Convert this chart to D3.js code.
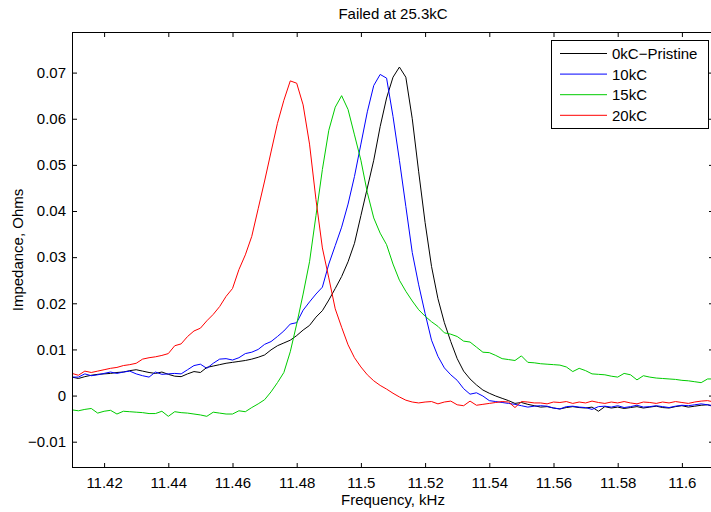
<!DOCTYPE html>
<html>
<head>
<meta charset="utf-8">
<script src="https://cdn.jsdelivr.net/npm/d3@7"></script>
<style>
  body { margin: 0; background: #fff; }
  svg { display: block; font-family: "Liberation Sans", Arial, Helvetica, sans-serif; }
  .tick line { stroke: #000; }
  .tick text { fill: #000; font-size: 15px; }
</style>
</head>
<body>
<div id="chart"></div>
<script>
// frequency points (kHz)
const freqs = [
  11.410, 11.412, 11.414, 11.416, 11.418, 11.420, 11.422, 11.424, 11.426, 11.428,
  11.430, 11.432, 11.434, 11.436, 11.438, 11.440, 11.442, 11.444, 11.446, 11.448,
  11.450, 11.452, 11.454, 11.456, 11.458, 11.460, 11.462, 11.464, 11.466, 11.468,
  11.470, 11.472, 11.474, 11.476, 11.478, 11.480, 11.482, 11.484, 11.486, 11.488,
  11.490, 11.492, 11.494, 11.496, 11.498, 11.500, 11.502, 11.504, 11.506, 11.508,
  11.510, 11.512, 11.514, 11.516, 11.518, 11.520, 11.522, 11.524, 11.526, 11.528,
  11.530, 11.532, 11.534, 11.536, 11.538, 11.540, 11.542, 11.544, 11.546, 11.548,
  11.550, 11.552, 11.554, 11.556, 11.558, 11.560, 11.562, 11.564, 11.566, 11.568,
  11.570, 11.572, 11.574, 11.576, 11.578, 11.580, 11.582, 11.584, 11.586, 11.588,
  11.590, 11.592, 11.594, 11.596, 11.598, 11.600, 11.602, 11.604, 11.606, 11.608,
  11.610
];

const pristine = [
  0.0040, 0.0037, 0.0041, 0.0044, 0.0046, 0.0047, 0.0048, 0.0050, 0.0051, 0.0054,
  0.0056, 0.0053, 0.0050, 0.0048, 0.0051, 0.0046, 0.0042, 0.0041, 0.0047, 0.0052,
  0.0050, 0.0061, 0.0064, 0.0067, 0.0070, 0.0072, 0.0074, 0.0076, 0.0079, 0.0083,
  0.0088, 0.0099, 0.0108, 0.0114, 0.0120, 0.0130, 0.0142, 0.0152, 0.0170, 0.0184,
  0.0207, 0.0232, 0.0258, 0.0290, 0.0330, 0.0390, 0.0450, 0.0510, 0.0583, 0.0645,
  0.0690, 0.0712, 0.0690, 0.0600, 0.0485, 0.0375, 0.0280, 0.0210, 0.0158, 0.0117,
  0.0080, 0.0053, 0.0036, 0.0023, 0.0012, 0.0005, -0.0001, -0.0006, -0.0011, -0.0017,
  -0.0015, -0.0019, -0.0022, -0.0025, -0.0024, -0.0027, -0.0029, -0.0026, -0.0024, -0.0026,
  -0.0027, -0.0025, -0.0034, -0.0024, -0.0027, -0.0025, -0.0028, -0.0026, -0.0024, -0.0027,
  -0.0025, -0.0023, -0.0026, -0.0027, -0.0024, -0.0022, -0.0025, -0.0023, -0.0021, -0.0020,
  -0.0024
];

const kc10 = [
  0.0040, 0.0040, 0.0047, 0.0043, 0.0045, 0.0048, 0.0051, 0.0048, 0.0051, 0.0053,
  0.0047, 0.0043, 0.0040, 0.0051, 0.0046, 0.0047, 0.0048, 0.0047, 0.0056, 0.0065,
  0.0068, 0.0059, 0.0070, 0.0079, 0.0080, 0.0077, 0.0082, 0.0091, 0.0094, 0.0100,
  0.0111, 0.0117, 0.0128, 0.0140, 0.0155, 0.0158, 0.0185, 0.0203, 0.0220, 0.0235,
  0.0285, 0.0325, 0.0365, 0.0415, 0.0475, 0.0545, 0.0615, 0.0672, 0.0696, 0.0688,
  0.0605, 0.0510, 0.0410, 0.0310, 0.0240, 0.0178, 0.0120, 0.0085, 0.0060, 0.0045,
  0.0033, 0.0015, 0.0003, 0.0006, -0.0001, -0.0011, -0.0013, -0.0015, -0.0017, -0.0019,
  -0.0022, -0.0025, -0.0023, -0.0022, -0.0023, -0.0027, -0.0029, -0.0024, -0.0023, -0.0025,
  -0.0026, -0.0030, -0.0024, -0.0023, -0.0025, -0.0022, -0.0026, -0.0024, -0.0021, -0.0025,
  -0.0024, -0.0022, -0.0024, -0.0026, -0.0023, -0.0021, -0.0022, -0.0020, -0.0018, -0.0020,
  -0.0022
];

const kc15 = [
  -0.0031, -0.0033, -0.0030, -0.0028, -0.0038, -0.0034, -0.0032, -0.0040, -0.0034, -0.0035,
  -0.0036, -0.0037, -0.0039, -0.0039, -0.0034, -0.0045, -0.0035, -0.0037, -0.0038, -0.0040,
  -0.0042, -0.0045, -0.0036, -0.0038, -0.0040, -0.0040, -0.0033, -0.0035, -0.0026, -0.0018,
  -0.0009, 0.0008, 0.0028, 0.0050, 0.0095, 0.0155, 0.0220, 0.0290, 0.0390, 0.0490,
  0.0575, 0.0625, 0.0650, 0.0620, 0.0565, 0.0510, 0.0440, 0.0385, 0.0352, 0.0327,
  0.0285, 0.0250, 0.0226, 0.0205, 0.0186, 0.0172, 0.0160, 0.0150, 0.0136, 0.0133,
  0.0128, 0.0118, 0.0116, 0.0105, 0.0094, 0.0093, 0.0087, 0.0080, 0.0078, 0.0076,
  0.0086, 0.0072, 0.0071, 0.0069, 0.0068, 0.0067, 0.0066, 0.0062, 0.0052, 0.0059,
  0.0054, 0.0047, 0.0046, 0.0045, 0.0042, 0.0040, 0.0048, 0.0045, 0.0034, 0.0043,
  0.0040, 0.0038, 0.0037, 0.0036, 0.0035, 0.0033, 0.0032, 0.0030, 0.0028, 0.0036,
  0.0036
];

const kc20 = [
  0.0048, 0.0044, 0.0053, 0.0050, 0.0053, 0.0056, 0.0059, 0.0061, 0.0065, 0.0067,
  0.0070, 0.0079, 0.0082, 0.0084, 0.0087, 0.0091, 0.0108, 0.0112, 0.0128, 0.0140,
  0.0146, 0.0162, 0.0176, 0.0193, 0.0215, 0.0232, 0.0273, 0.0305, 0.0345, 0.0405,
  0.0465, 0.0528, 0.0590, 0.0640, 0.0682, 0.0677, 0.0630, 0.0545, 0.0425, 0.0320,
  0.0255, 0.0188, 0.0148, 0.0110, 0.0082, 0.0062, 0.0045, 0.0032, 0.0022, 0.0014,
  0.0005, -0.0003, -0.0010, -0.0014, -0.0016, -0.0014, -0.0013, -0.0018, -0.0014, -0.0012,
  -0.0020, -0.0022, -0.0012, -0.0021, -0.0019, -0.0017, -0.0015, -0.0013, -0.0014, -0.0026,
  -0.0013, -0.0014, -0.0016, -0.0016, -0.0018, -0.0014, -0.0015, -0.0013, -0.0017, -0.0014,
  -0.0016, -0.0012, -0.0015, -0.0017, -0.0014, -0.0016, -0.0013, -0.0016, -0.0018, -0.0014,
  -0.0015, -0.0017, -0.0014, -0.0016, -0.0013, -0.0015, -0.0017, -0.0014, -0.0012, -0.0011,
  -0.0014
];

const seriesNames = ["0kC\u2212Pristine", "10kC", "15kC", "20kC"];
const seriesColors = ["#000000", "#0000ff", "#00cc00", "#ff0000"];
const seriesValues = [pristine, kc10, kc15, kc20];

const xTicks = [11.42, 11.44, 11.46, 11.48, 11.5, 11.52, 11.54, 11.56, 11.58, 11.6];
const yTicks = [-0.01, 0, 0.01, 0.02, 0.03, 0.04, 0.05, 0.06, 0.07];

const width = 711;
const height = 512;
const margin = ({top: 32, right: -3, bottom: 44, left: 72});

const x = d3.scaleLinear()
    .domain([11.41, 11.61])
    .range([margin.left, width - margin.right]);

const y = d3.scaleLinear()
    .domain([-0.0157, 0.0788])
    .range([height - margin.bottom, margin.top]);

const svg = d3.select("#chart").append("svg")
    .attr("width", width)
    .attr("height", height);

svg.append("rect").attr("width", width).attr("height", height).attr("fill", "#fff");

svg.append("clipPath").attr("id", "plot-clip")
  .append("rect")
    .attr("x", margin.left).attr("y", margin.top)
    .attr("width", x.range()[1] - margin.left)
    .attr("height", y.range()[0] - margin.top);

const fmtY = d => d === 0 ? "0" : d3.format(".2f")(d).replace("-", "\u2212");
const fmtX = d => String(+d.toFixed(2));

// axes, ticks point inward like matlab
svg.append("g")
    .attr("transform", `translate(0,${height - margin.bottom})`)
    .call(d3.axisBottom(x).tickValues(xTicks).tickFormat(fmtX).tickSizeInner(-5).tickSizeOuter(0).tickPadding(9))
    .call(g => g.select(".domain").remove());

svg.append("g")
    .attr("transform", `translate(0,${margin.top})`)
    .call(d3.axisTop(x).tickValues(xTicks).tickFormat("").tickSizeInner(-5).tickSizeOuter(0))
    .call(g => g.select(".domain").remove());

svg.append("g")
    .attr("transform", `translate(${margin.left},0)`)
    .call(d3.axisLeft(y).tickValues(yTicks).tickFormat(fmtY).tickSizeInner(-5).tickSizeOuter(0).tickPadding(6))
    .call(g => g.select(".domain").remove());

svg.append("g")
    .attr("transform", `translate(${x.range()[1]},0)`)
    .call(d3.axisRight(y).tickValues(yTicks).tickFormat("").tickSizeInner(-5).tickSizeOuter(0))
    .call(g => g.select(".domain").remove());

svg.selectAll(".tick line").attr("stroke", "#000");

// curves
const line = d3.line()
    .x((d, i) => x(freqs[i]))
    .y(d => y(d));

svg.append("g")
    .attr("clip-path", "url(#plot-clip)")
  .selectAll("path")
  .data(seriesValues)
  .join("path")
    .attr("fill", "none")
    .attr("stroke", (d, i) => seriesColors[i])
    .attr("stroke-width", 1)
    .attr("d", line);

// box
svg.append("rect")
    .attr("x", margin.left + 0.5)
    .attr("y", margin.top + 0.5)
    .attr("width", x.range()[1] - margin.left - 1)
    .attr("height", y.range()[0] - margin.top - 1)
    .attr("fill", "none")
    .attr("stroke", "#000");

// titles
svg.append("text")
    .attr("x", (x.range()[0] + x.range()[1]) / 2)
    .attr("y", 19)
    .attr("text-anchor", "middle")
    .attr("font-size", 15)
    .text("Failed at 25.3kC");

svg.append("text")
    .attr("x", (x.range()[0] + x.range()[1]) / 2)
    .attr("y", 505)
    .attr("text-anchor", "middle")
    .attr("font-size", 15)
    .text("Frequency, kHz");

svg.append("text")
    .attr("transform", `translate(23,${(y.range()[0] + y.range()[1]) / 2}) rotate(-90)`)
    .attr("text-anchor", "middle")
    .attr("font-size", 15)
    .text("Impedance, Ohms");

// legend
const legend = svg.append("g").attr("transform", "translate(551,40)");
legend.append("rect")
    .attr("x", 0.5).attr("y", 0.5)
    .attr("width", 157).attr("height", 88)
    .attr("fill", "#fff")
    .attr("stroke", "#000");

const item = legend.selectAll("g.item")
  .data(seriesNames)
  .join("g")
    .attr("class", "item")
    .attr("transform", (d, i) => `translate(0,${13.5 + i * 20.6})`);

item.append("line")
    .attr("x1", 9).attr("x2", 56)
    .attr("stroke", (d, i) => seriesColors[i]);

item.append("text")
    .attr("x", 61)
    .attr("dy", "0.36em")
    .attr("font-size", 15)
    .text(d => d);
</script>
</body>
</html>
